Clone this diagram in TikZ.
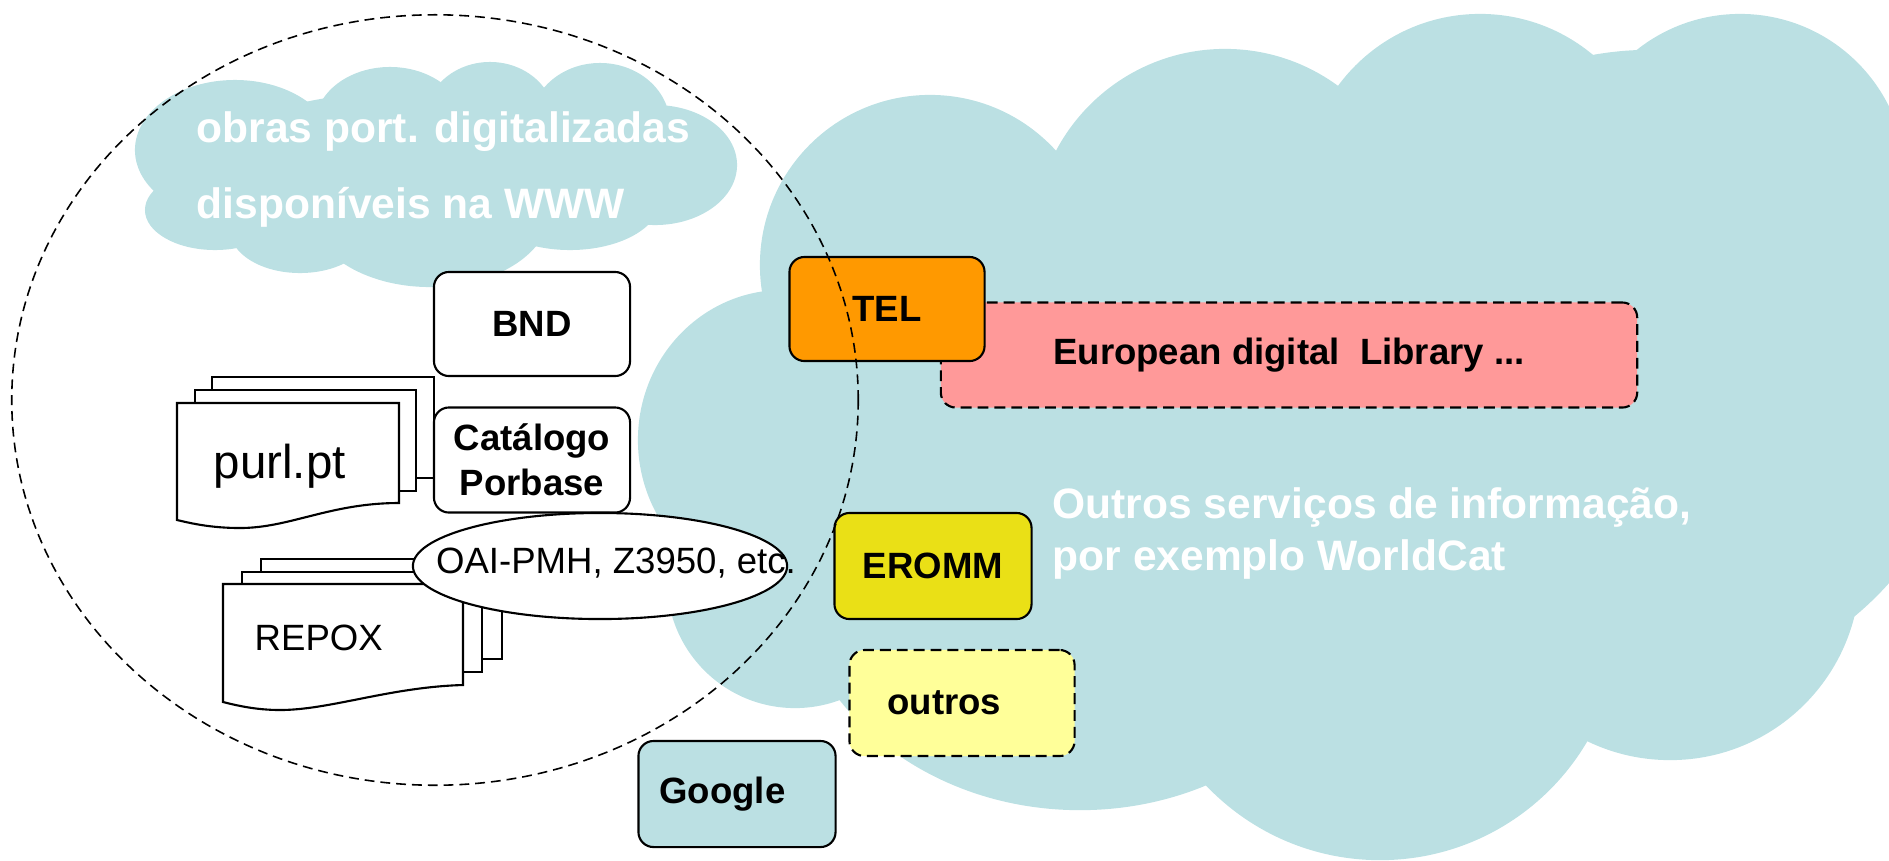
\documentclass[tikz,border=0pt]{standalone}
\usepackage{fontspec}
\setmainfont{Liberation Sans}
\usetikzlibrary{shapes.geometric}

\definecolor{cloudblue}{RGB}{187,224,227}
\definecolor{telorange}{RGB}{255,153,0}
\definecolor{edlpink}{RGB}{255,153,153}
\definecolor{erommyellow}{RGB}{234,224,22}
\definecolor{outrosyellow}{RGB}{255,255,153}

\begin{document}
\begin{tikzpicture}[x=0.01cm,y=-0.01cm]
    \tikzset{box/.style = {draw, rounded corners=0.15cm, line width=0.6pt, inner sep=0pt, font=\fontsize{10.4}{12.8}\selectfont\bfseries}}
    \tikzset{dashbox/.style = {box, dash pattern=on 3.1pt off 1.7pt}}
    \tikzset{page/.style = {draw, fill=white, line width=0.6pt}}
    \tikzset{cloudtext/.style = {text=white, anchor=base west, inner sep=0pt, font=\fontsize{12.1}{14}\selectfont\bfseries}}
    \tikzset{plaintext/.style = {inner sep=0pt, anchor=base west, font=\fontsize{10.4}{12}\selectfont}}
    \useasboundingbox (0,0) rectangle (1889,860);
    \clip (0,0) rectangle (1889,860);
    % big cloud
    \foreach \cx/\cy/\rx/\ry in {930/265/1.70cm/1.70cm, 783/440/1.45cm/1.50cm, 795/580/1.28cm/1.28cm,
        1080/560/2.90cm/2.50cm, 1380/620/2.40cm/2.40cm, 1670/570/1.90cm/1.90cm, 1650/370/3.20cm/3.20cm,
        1480/190/1.76cm/1.76cm, 1740/180/1.66cm/1.66cm, 1225/240/1.91cm/1.91cm, 1300/450/5.00cm/3.30cm}
        \fill[cloudblue] (\cx,\cy) ellipse [x radius=\rx, y radius=\ry];
    % small cloud
    \foreach \cx/\cy/\rx/\ry in {235/150/1.00cm/0.70cm, 215/210/0.70cm/0.40cm, 390/125/0.75cm/0.58cm,
        490/120/0.65cm/0.58cm, 600/125/0.70cm/0.62cm, 655/165/0.82cm/0.60cm, 430/210/1.20cm/0.77cm,
        570/200/0.90cm/0.50cm, 300/230/0.70cm/0.43cm, 430/165/2.30cm/0.75cm}
        \fill[cloudblue] (\cx,\cy) ellipse [x radius=\rx, y radius=\ry];
    % cloud texts
    \node[cloudtext] (obras) at (196,142) {obras port. digitalizadas};
    \node[cloudtext] (www) at (196,218) {disponíveis na WWW};
    \node[cloudtext] (outserv) at (1052,518) {Outros serviços de informação,};
    \node[cloudtext] (worldcat) at (1052,570) {por exemplo WorldCat};
    % purl.pt pages
    \draw[page] (212,377) rectangle (434,478);
    \draw[page] (195,390) rectangle (416,491);
    \draw[page] (177,403) -- (399,403) -- (399,503) .. controls (330,503) and (290,528) .. (240,528)
        .. controls (210,528) and (190,523) .. (177,520) -- cycle;
    \node[plaintext, font=\fontsize{13.5}{15}\selectfont] (purl) at (213,478) {purl.pt};
    % local boxes
    \node[box, fill=white, minimum width=1.96cm, minimum height=1.04cm] (bnd) at (532,324) {BND};
    \node[box, fill=white, minimum width=1.96cm, minimum height=1.05cm, align=center] (porbase) at (532,460) {Catálogo\\Porbase};
    % REPOX pages
    \draw[page] (261,559) rectangle (502,659);
    \draw[page] (242,572) rectangle (482,672);
    \draw[page] (223,584) -- (463,584) -- (463,685) .. controls (390,687) and (330,710) .. (280,710)
        .. controls (255,710) and (235,705) .. (223,702) -- cycle;
    \node[plaintext] (repox) at (254,650) {REPOX};
    % protocols
    \node[ellipse, draw, fill=white, line width=0.6pt, minimum width=3.74cm, minimum height=1.06cm] (oai) at (600,566) {};
    \node[inner sep=0pt, font=\fontsize{10.4}{12}\selectfont] (oaitext) at (616,563) {OAI-PMH, Z3950, etc.};
    % services
    \node[dashbox, fill=edlpink, minimum width=6.96cm, minimum height=1.05cm] (edl) at (1289,355) {European digital\ \ Library ...};
    \node[box, fill=telorange, minimum width=1.95cm, minimum height=1.04cm] (tel) at (887,309) {TEL};
    \node[box, fill=erommyellow, minimum width=1.97cm, minimum height=1.06cm] (eromm) at (933,566) {EROMM};
    \node[dashbox, fill=outrosyellow, minimum height=1.06cm, text width=1.49cm, inner xsep=0.38cm, align=left] (outros) at (962,703) {outros};
    \node[box, fill=cloudblue, minimum height=1.06cm, text width=1.55cm, inner xsep=0.21cm, align=left] (google) at (737,794) {Google};
    % dashed circle
    \draw[line width=0.45pt, dash pattern=on 2.8pt off 1.7pt] (435,400) ellipse [x radius=4.23cm, y radius=3.85cm];
\end{tikzpicture}
\end{document}
